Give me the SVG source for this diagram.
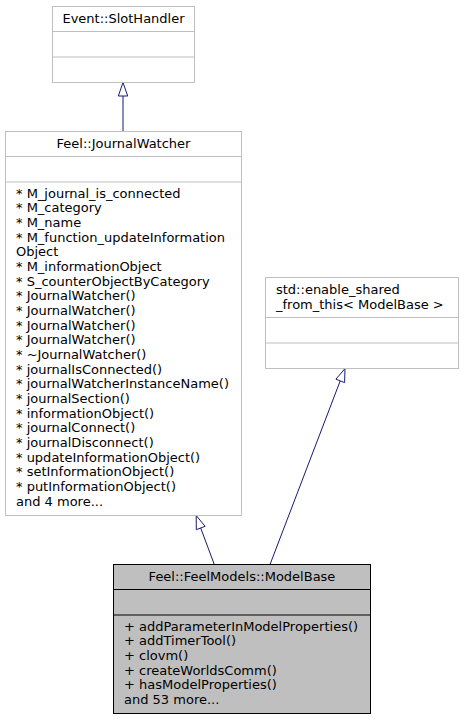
<svg xmlns="http://www.w3.org/2000/svg" width="464" height="720" viewBox="0 0 464 720">
<defs>
<style>
text{font-family:"DejaVu Sans","Liberation Sans",sans-serif;font-size:13px;fill:#000}
.c{text-anchor:middle}
.box{fill:#fff;stroke:#bfbfbf;stroke-width:1}
.sep{stroke:#bfbfbf;stroke-width:1}
.hbox{fill:#bfbfbf;stroke:#000;stroke-width:1}
.hsep{stroke:#000;stroke-width:1}
.edge{stroke:#191970;stroke-width:1;fill:none}
.head{stroke:#191970;stroke-width:1;fill:#fff}
</style>
</defs>
<rect width="464" height="720" fill="#fff"/>
<g id="edges">
<path class="edge" d="M123,131 L123,96"/>
<polygon class="head" points="123,82.5 127.7,96 118.3,96"/>
<path class="edge" d="M214.3,564.5 L200.7,528"/>
<polygon class="head" points="196.2,515.5 205.1,526.3 196.3,529.7"/>
<path class="edge" d="M270,564.5 L340.2,380.9"/>
<polygon class="head" points="345,368.5 344.6,382.6 335.9,379.2"/>
</g>
<g id="node-slothandler">
<rect class="box" x="52.5" y="6.5" width="142" height="76"/>
<line class="sep" x1="52.5" y1="31.5" x2="194.5" y2="31.5"/>
<line class="sep" x1="52.5" y1="57" x2="194.5" y2="57"/>
<text class="c" x="123.5" y="22.5">Event::SlotHandler</text>
</g>
<g id="node-journalwatcher">
<rect class="box" x="5.5" y="131.5" width="236" height="384"/>
<line class="sep" x1="5.5" y1="156.5" x2="241.5" y2="156.5"/>
<line class="sep" x1="5.5" y1="182" x2="241.5" y2="182"/>
<text class="c" x="123.5" y="147.5">Feel::JournalWatcher</text>
<text x="16" y="197.7">* M_journal_is_connected</text>
<text x="16" y="212.4">* M_category</text>
<text x="16" y="227">* M_name</text>
<text x="16" y="241.7">* M_function_updateInformation</text>
<text x="16" y="256.4">Object</text>
<text x="16" y="271">* M_informationObject</text>
<text x="16" y="285.7">* S_counterObjectByCategory</text>
<text x="16" y="300.4">* JournalWatcher()</text>
<text x="16" y="315.1">* JournalWatcher()</text>
<text x="16" y="329.7">* JournalWatcher()</text>
<text x="16" y="344.4">* JournalWatcher()</text>
<text x="16" y="359.1">* ~JournalWatcher()</text>
<text x="16" y="373.7">* journalIsConnected()</text>
<text x="16" y="388.4">* journalWatcherInstanceName()</text>
<text x="16" y="403.1">* journalSection()</text>
<text x="16" y="417.7">* informationObject()</text>
<text x="16" y="432.4">* journalConnect()</text>
<text x="16" y="447.1">* journalDisconnect()</text>
<text x="16" y="461.8">* updateInformationObject()</text>
<text x="16" y="476.4">* setInformationObject()</text>
<text x="16" y="491.1">* putInformationObject()</text>
<text x="16" y="505.8">and 4 more...</text>
</g>
<g id="node-enable-shared">
<rect class="box" x="265.5" y="277.5" width="193" height="91"/>
<line class="sep" x1="265.5" y1="317.5" x2="458.5" y2="317.5"/>
<line class="sep" x1="265.5" y1="343" x2="458.5" y2="343"/>
<text x="276" y="294">std::enable_shared</text>
<text x="276" y="308.7">_from_this&lt; ModelBase &gt;</text>
</g>
<g id="node-modelbase">
<rect class="hbox" x="113.5" y="564.5" width="257" height="149"/>
<line class="hsep" x1="113.5" y1="589.5" x2="370.5" y2="589.5"/>
<line class="hsep" x1="113.5" y1="615" x2="370.5" y2="615"/>
<text class="c" x="242" y="580.5">Feel::FeelModels::ModelBase</text>
<text x="124" y="630.7">+ addParameterInModelProperties()</text>
<text x="124" y="645.4">+ addTimerTool()</text>
<text x="124" y="660">+ clovm()</text>
<text x="124" y="674.7">+ createWorldsComm()</text>
<text x="124" y="689.4">+ hasModelProperties()</text>
<text x="124" y="704">and 53 more...</text>
</g>
</svg>
